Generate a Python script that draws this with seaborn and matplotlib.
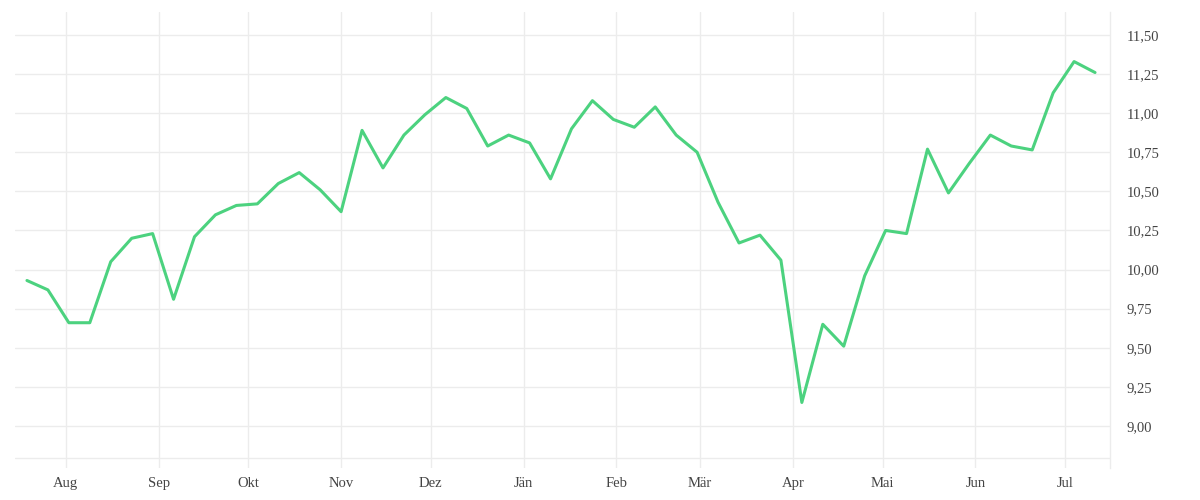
import matplotlib
matplotlib.use("Agg")
import matplotlib.pyplot as plt
import matplotlib.ticker as mticker
import pandas as pd
import seaborn as sns

# weekly closes (Fridays), Jul 2024 - Jul 2025
start_date = "2024-07-19"
prices = [
    9.93, 9.87, 9.66, 9.66, 10.05, 10.20, 10.23, 9.81, 10.21, 10.35,
    10.41, 10.42, 10.55, 10.62, 10.51, 10.37, 10.89, 10.65, 10.86, 10.99,
    11.10, 11.03, 10.79, 10.86, 10.81, 10.58, 10.90, 11.08, 10.96, 10.91,
    11.04, 10.86, 10.75, 10.43, 10.17, 10.22, 10.06, 9.15, 9.65, 9.51,
    9.96, 10.25, 10.23, 10.77, 10.49, 10.68, 10.86, 10.79, 10.765, 11.13,
    11.33, 11.26,
]
month_labels = ["Aug", "Sep", "Okt", "Nov", "Dez", "Jän", "Feb", "Mär",
                "Apr", "Mai", "Jun", "Jul"]
y_ticks = [9.00, 9.25, 9.50, 9.75, 10.00, 10.25, 10.50, 10.75, 11.00, 11.25, 11.50]

df = pd.DataFrame({
    "date": pd.date_range(start_date, periods=len(prices), freq="7D"),
    "price": prices,
})

sns.set_style("white")
plt.rcParams["font.family"] = ["Liberation Serif", "DejaVu Serif"]

grid_col = "#ececec"
text_col = "#444444"

fig = plt.figure(figsize=(12, 5), dpi=100)
ax = fig.add_axes([15 / 1200, 32 / 500, 1095 / 1200, 456 / 500])

sns.lineplot(data=df, x="date", y="price", ax=ax, color="#4cd27f",
             linewidth=2.2)

ax.set_xlim(pd.Timestamp("2024-07-15"), pd.Timestamp("2025-07-16"))
ax.set_ylim(8.731, 11.647)

month_pos = pd.date_range("2024-08-01", periods=len(month_labels), freq="MS")
ax.set_xticks(month_pos)
ax.set_xticklabels(month_labels, va="baseline")
ax.set_yticks(y_ticks)
ax.yaxis.set_major_formatter(
    mticker.FuncFormatter(lambda v, p: f"{v:.2f}".replace(".", ",")))
ax.yaxis.tick_right()

for v in y_ticks + [8.795]:
    ax.axhline(v, color=grid_col, linewidth=1, zorder=0)
ax.grid(axis="x", color=grid_col, linewidth=1)
ax.set_axisbelow(True)

for s in ["top", "left", "bottom"]:
    ax.spines[s].set_visible(False)
ax.spines["right"].set_color(grid_col)
ax.spines["right"].set_linewidth(1)

ax.tick_params(axis="both", length=0, labelsize=10.5, colors=text_col)
ax.tick_params(axis="x", pad=14)
ax.tick_params(axis="y", pad=12)
ax.set_xlabel("")
ax.set_ylabel("")

fig.savefig("out.png", dpi=100)
